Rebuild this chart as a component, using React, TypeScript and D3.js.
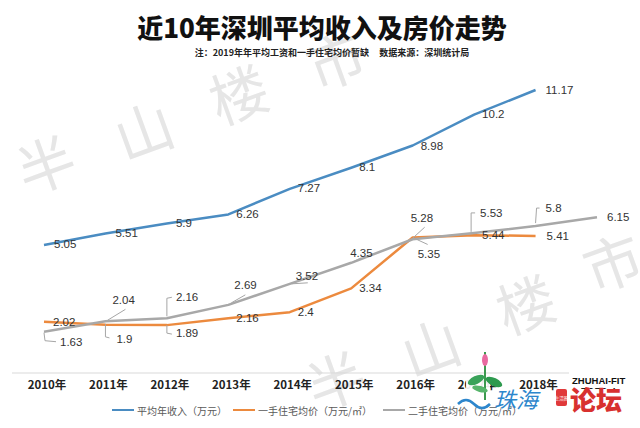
import * as d3 from 'd3';

const years = ['2010年', '2011年', '2012年', '2013年', '2014年', '2015年', '2016年', '2017年', '2018年', '2019年'];
const income = [5.05, 5.51, 5.9, 6.26, 7.27, 8.1, 8.98, 10.2, 11.17];
const newHome = [2.02, 1.9, 1.89, 2.16, 2.4, 3.34, 5.35, 5.44, 5.41];
const resale = [1.63, 2.04, 2.16, 2.69, 3.52, 4.35, 5.28, 5.53, 5.8, 6.15];
const legendNames = ['平均年收入（万元）', '一手住宅均价（万元/㎡）', '二手住宅均价（万元/㎡）'];
const watermark = ['半', '山', '楼', '市'];

// label placement: [dx, dy] from the point, optional leader polyline (relative)
type Lab = { dx: number; dy: number; lead?: [number, number][] };
const incomeLabels: Lab[] = [
  { dx: 10, dy: -1 }, { dx: 10, dy: 0 }, { dx: 9, dy: -1 }, { dx: 8, dy: 0 }, { dx: 8, dy: -1 },
  { dx: 8, dy: -1 }, { dx: 8, dy: 0 }, { dx: 8, dy: -1 }, { dx: 10, dy: 0 },
];
const newHomeLabels: Lab[] = [
  { dx: 9, dy: 0 },
  { dx: 11, dy: 14, lead: [[0, -1], [0, 12], [4, 13]] },
  { dx: 9, dy: 8, lead: [[0, 0], [0, 8], [5, 9]] },
  { dx: 8, dy: 0 }, { dx: 8, dy: 0 }, { dx: 8, dy: 0 },
  { dx: 5, dy: 17, lead: [[2, 1], [15, 7]] },
  { dx: 8, dy: 0 }, { dx: 11, dy: 0 },
];
const resaleLabels: Lab[] = [
  { dx: 16, dy: 10, lead: [[0, 1], [1, 9], [12, 10]] },
  { dx: 7, dy: -21, lead: [[2, -1], [20, -12]] },
  { dx: 9, dy: -21, lead: [[0, -2], [0, -20], [5, -21]] },
  { dx: 6, dy: -20, lead: [[3, -2], [17, -10]] },
  { dx: 6, dy: -8, lead: [[2, 0], [18, -1]] },
  { dx: -1, dy: -10, lead: [[2, -1], [10, -5]] },
  { dx: -2, dy: -21, lead: [[0, -1], [12, -12]] },
  { dx: 6, dy: -20, lead: [[-3, -1], [-3, -20], [1, -20]] },
  { dx: 10, dy: -18, lead: [[0, -3], [1, -18], [4, -18]] },
  { dx: 10, dy: 0 },
];

const W = 640;
const H = 428;
const colors = ['#4a8cc2', '#ec8a3e', '#a8a8a8'];
const cjk = '"Noto Sans CJK SC", sans-serif';
const latin = '"Liberation Sans", Arial, sans-serif';

export default function App() {
  const x = d3.scalePoint<string>().domain(years).range([44, 597]);
  const y = d3.scaleLinear().domain([0, 12]).range([373, 69]);

  const line = d3.line<number>()
    .x((_, i) => x(years[i])!)
    .y(d => y(d));

  const series = [
    { values: income, labels: incomeLabels, color: colors[0] },
    { values: newHome, labels: newHomeLabels, color: colors[1] },
    { values: resale, labels: resaleLabels, color: colors[2] },
  ];

  const wm1 = [[45, 162], [143, 128], [238, 92], [335, 58]];
  const wm2 = [[335, 378], [430, 345], [525, 302], [612, 260]];

  const legendX = [112, 233, 383];

  return (
    <div style={{ position: 'fixed', left: 0, top: 0 }}>
      <svg width={W} height={H} style={{ display: 'block', background: '#fff' }}>
        {/* watermark */}
        {[wm1, wm2].map((row, r) =>
          row.map(([cx, cy], i) => (
            <text key={`wm${r}${i}`} x={cx} y={cy} textAnchor="middle" dominantBaseline="central"
              fontSize={58} fill="#e6e6e6" fontFamily={cjk}
              transform={`rotate(-20, ${cx}, ${cy})`}>{watermark[i]}</text>
          ))
        )}

        <text x={322} y={38} textAnchor="middle" fontSize={26} fontWeight={900} fill="#111" fontFamily={cjk}>
          近10年深圳平均收入及房价走势
        </text>
        <text x={332} y={56} textAnchor="middle" fontSize={9} fontWeight={700} fill="#222" fontFamily={cjk}>
          注：2019年年平均工资和一手住宅均价暂缺{'\u00a0\u00a0\u00a0\u00a0\u00a0'}数据来源：深圳统计局
        </text>

        {/* axis */}
        <line x1={12} x2={628} y1={y(0)} y2={y(0)} stroke="#d9d9d9" strokeWidth={1} />
        {years.map(yr => (
          <text key={yr} x={x(yr)! + 3} y={389} textAnchor="middle" fontSize={11.5} fontWeight={700}
            fill="#222" fontFamily={cjk}>{yr}</text>
        ))}

        {/* lines */}
        {series.map((s, k) => (
          <path key={`l${k}`} d={line(s.values)!} fill="none" stroke={s.color} strokeWidth={2.5}
            strokeLinejoin="round" />
        ))}

        {/* leaders and labels */}
        {series.map((s, k) =>
          s.values.map((v, i) => {
            const px = x(years[i])!;
            const py = y(v);
            const lab = s.labels[i];
            return (
              <g key={`t${k}${i}`}>
                {lab.lead && (
                  <polyline points={lab.lead.map(([a, b]) => `${px + a},${py + b}`).join(' ')}
                    fill="none" stroke="#a6a6a6" strokeWidth={1} />
                )}
                <text x={px + lab.dx} y={py + lab.dy} dominantBaseline="central" fontSize={11.5}
                  fill="#333" fontFamily={latin}>{v}</text>
              </g>
            );
          })
        )}

        {/* legend */}
        {legendNames.map((n, i) => (
          <g key={n}>
            <line x1={legendX[i]} x2={legendX[i] + 22} y1={410} y2={410} stroke={colors[i]} strokeWidth={2} />
            <text x={legendX[i] + 25} y={410} dominantBaseline="central" fontSize={10} fill="#595959"
              fontFamily={cjk}>{n}</text>
          </g>
        ))}

        {/* site logo overlay */}
        <g>
          <rect x={569} y={372} width={60} height={16} fill="#fff" />
          <rect x={466} y={376} width={24} height={16} fill="#fff" opacity={0.9} />
          <path d="M485,352 L485,400" stroke="#3d9a4f" strokeWidth={2} />
          <ellipse cx={485} cy={360} rx={3} ry={6} fill="#e86aa0" />
          <ellipse cx={476} cy={380} rx={9} ry={4} fill="#3aa35a" transform="rotate(-25,476,380)" />
          <ellipse cx={494} cy={382} rx={9} ry={4} fill="#2e9a4f" transform="rotate(25,494,382)" />
          <ellipse cx={480} cy={389} rx={8} ry={3} fill="#58b56c" transform="rotate(15,480,389)" />
          <path d="M458,404 q8,-8 16,0 q8,8 16,0" fill="none" stroke="#2d86cc" strokeWidth={2.5} />
          <text x={572} y={384} fontSize={9.5} fontWeight={700} fill="#111" fontFamily={latin}>ZHUHAI-FIT</text>
          <text x={494} y={408} fontSize={22} fontStyle="italic" fill="#2d86cc" fontFamily={cjk}>珠海</text>
          <rect x={556} y={389} width={11} height={17} rx={2} fill="#e0393a" />
          <text x={561.5} y={397.5} textAnchor="middle" dominantBaseline="central" fontSize={4.5} fill="#fff"
            fontFamily={cjk}>生活圈</text>
          <text x={570} y={410} fontSize={26} fontWeight={900} fill="#d8312f" fontFamily={cjk}>论坛</text>
        </g>
      </svg>
    </div>
  );
}
